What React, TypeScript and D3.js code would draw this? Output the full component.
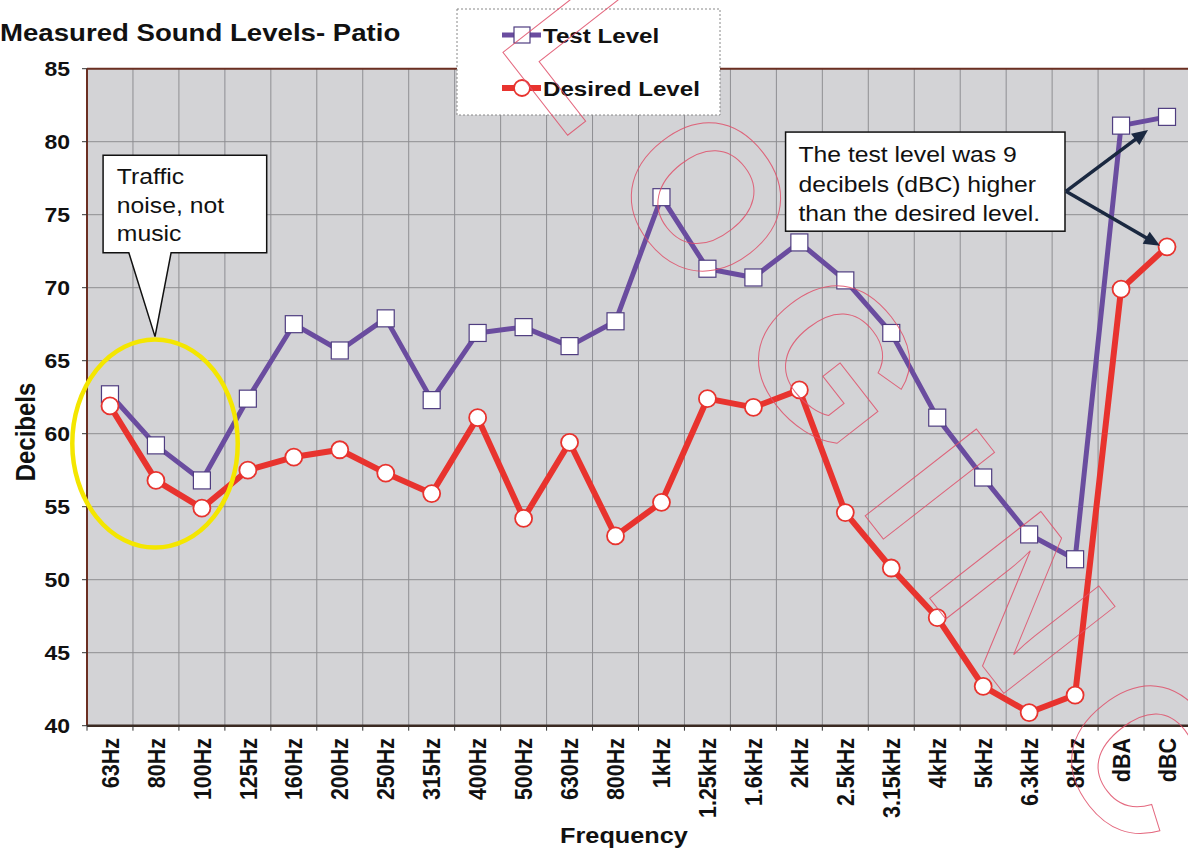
import React from "react";
import * as d3 from "d3";

const categories = ["63Hz","80Hz","100Hz","125Hz","160Hz","200Hz","250Hz","315Hz","400Hz","500Hz","630Hz","800Hz","1kHz","1.25kHz","1.6kHz","2kHz","2.5kHz","3.15kHz","4kHz","5kHz","6.3kHz","8kHz","dBA","dBC"];
const testLevel = [62.7,59.2,56.8,62.4,67.5,65.7,67.9,62.3,66.9,67.3,66.0,67.7,76.2,71.3,70.7,73.1,70.5,66.9,61.1,57.0,53.1,51.4,81.1,81.7];
const desiredLevel = [61.9,56.8,54.9,57.5,58.4,58.9,57.3,55.9,61.1,54.2,59.4,53.0,55.3,62.4,61.8,63.0,54.6,50.8,47.4,42.7,40.9,42.1,69.9,72.8];
const yTicks = [40,45,50,55,60,65,70,75,80,85];
const seriesNames = ["Test Level","Desired Level"];
const noteTraffic = ["Traffic","noise, not","music"];
const noteDiff = ["The test level was 9","decibels (dBC) higher","than the desired level."];
const watermark = "LOGINC";

const W = 1188, H = 850;
const left = 87, right = 1190, top = 68.7, bottom = 725.7;
const FONT = "'Liberation Sans', Arial, Helvetica, sans-serif";
const SX = 1.15;
const PURPLE = "#6a4c9f";
const RED = "#e8332e";

function SText(props: any) {
  const { x, y, size, weight, anchor, rotate, children, dy, fill } = props;
  return (
    <text
      transform={`translate(${x},${y}) scale(${SX},1)${rotate ? ` rotate(${rotate})` : ""}`}
      fontFamily={FONT}
      fontSize={size}
      fontWeight={weight || "normal"}
      textAnchor={anchor || "start"}
      dy={dy}
      fill={fill || "#111"}
    >
      {children}
    </text>
  );
}

export default function App() {
  const x = d3.scaleBand<string>().domain(categories).range([left, right]).padding(0);
  const xi = d3.scaleLinear().domain([0, categories.length]).range([left, right]);
  const y = d3.scaleLinear().domain([40, 85]).range([bottom, top]);
  const cx = (c: string) => (x(c) as number) + x.bandwidth() / 2;

  const line = d3.line<number>().x((_, i) => cx(categories[i])).y((d) => y(d));

  // callout 1
  const c1 = { l: xi(0.35), r: xi(3.91), t: y(79.07), b: y(72.4), p1: xi(0.91), p2: xi(1.83), tx: xi(1.48), ty: y(66.65) };
  const c1Path = `M${c1.l},${c1.t} H${c1.r} V${c1.b} H${c1.p2} L${c1.tx},${c1.ty} L${c1.p1},${c1.b} H${c1.l} Z`;
  // callout 2
  const c2 = { l: xi(15.2), r: xi(21.28), t: y(80.66), b: y(73.87) };
  const ao = { x: xi(21.3), y: y(76.6) };
  const n = categories.length;
  const tip1 = { x: cx(categories[n - 1]) - 19, y: y(testLevel[n - 1]) + 13 };
  const tip2 = { x: cx(categories[n - 1]) - 7, y: y(desiredLevel[n - 1]) - 1 };

  const ell = { cx: xi(1.48), cy: y(59.33), rx: xi(1.8) - xi(0), ry: y(52.2) - y(59.33) };

  const arrowHead = (from: any, to: any) => {
    const ang = Math.atan2(to.y - from.y, to.x - from.x);
    const L = 16, Wd = 7;
    const bx = to.x - L * Math.cos(ang), by = to.y - L * Math.sin(ang);
    const px = -Math.sin(ang) * Wd, py = Math.cos(ang) * Wd;
    return `M${to.x},${to.y} L${bx + px},${by + py} L${bx - px},${by - py} Z`;
  };
  const arrowLineEnd = (from: any, to: any) => {
    const ang = Math.atan2(to.y - from.y, to.x - from.x);
    return { x: to.x - 12 * Math.cos(ang), y: to.y - 12 * Math.sin(ang) };
  };
  const e1 = arrowLineEnd(ao, tip1), e2 = arrowLineEnd(ao, tip2);

  const wmCenter = { x: 885, y: 425 };

  return (
    <svg width={W} height={H} style={{ position: "absolute", left: 0, top: 0, background: "#fff" }}>
      {/* title */}
      <SText x={0} y={41} size={24} weight="bold">Measured Sound Levels- Patio</SText>

      {/* plot background */}
      <rect x={left} y={top} width={right - left} height={bottom - top} fill="#d3d3d6" />
      {/* grid */}
      {yTicks.map((t) => (
        <line key={"h" + t} x1={left} x2={right} y1={y(t)} y2={y(t)} stroke="#8e8e92" strokeWidth={1} />
      ))}
      {categories.map((c) => (
        <line key={"v" + c} x1={x(c) as number} x2={x(c) as number} y1={top} y2={bottom} stroke="#8e8e92" strokeWidth={1} />
      ))}
      {/* axes border */}
      <line x1={left} x2={right} y1={top} y2={top} stroke="#6b2f22" strokeWidth={2} />
      <line x1={left} x2={left} y1={top} y2={bottom} stroke="#6b2f22" strokeWidth={2} />
      <line x1={left} x2={right} y1={bottom} y2={bottom} stroke="#3a2a22" strokeWidth={2.5} />
      {/* y ticks */}
      {yTicks.map((t) => (
        <g key={"yt" + t}>
          <line x1={left - 5} x2={left} y1={y(t)} y2={y(t)} stroke="#333" strokeWidth={1} />
          <SText x={70} y={y(t)} dy="0.36em" size={20} weight="bold" anchor="end">{String(t)}</SText>
        </g>
      ))}
      {/* x ticks */}
      {categories.map((c) => (
        <line key={"xt" + c} x1={x(c) as number} x2={x(c) as number} y1={bottom} y2={bottom + 5} stroke="#333" strokeWidth={1} />
      ))}
      {categories.map((c) => (
        <SText key={"xl" + c} x={cx(c)} y={738} size={21.5} weight="bold" anchor="end" rotate={-90} dy="0.35em">{c}</SText>
      ))}
      {/* axis titles */}
      <SText x={25} y={432} size={24} weight="bold" anchor="middle" rotate={-90} dy="0.35em">Decibels</SText>
      <SText x={624} y={843} size={22} weight="bold" anchor="middle">Frequency</SText>

      {/* callout 1 */}
      <path d={c1Path} fill="#fff" stroke="#111" strokeWidth={1.5} />
      {noteTraffic.map((t, i) => (
        <SText key={"n1" + i} x={xi(0.65)} y={c1.t + 29 + i * 28.5} size={21.5}>{t}</SText>
      ))}

      {/* series */}
      <path d={line(testLevel) as string} fill="none" stroke={PURPLE} strokeWidth={5} strokeLinejoin="round" />
      <path d={line(desiredLevel) as string} fill="none" stroke={RED} strokeWidth={6} strokeLinejoin="round" />

      {/* yellow ellipse */}
      <ellipse cx={ell.cx} cy={ell.cy} rx={ell.rx} ry={ell.ry} fill="none" stroke="#f4e600" strokeWidth={4.5} />

      {testLevel.map((v, i) => (
        <rect key={"ts" + i} x={cx(categories[i]) - 8.5} y={y(v) - 8.5} width={17} height={17} fill="#fff" stroke="#4f3d80" strokeWidth={1.2} />
      ))}
      {desiredLevel.map((v, i) => (
        <circle key={"dc" + i} cx={cx(categories[i])} cy={y(v)} r={8.5} fill="#fff" stroke={RED} strokeWidth={1.8} />
      ))}

      {/* callout 2 */}
      <rect x={c2.l} y={c2.t} width={c2.r - c2.l} height={c2.b - c2.t} fill="#fff" stroke="#111" strokeWidth={1.5} />
      {noteDiff.map((t, i) => (
        <SText key={"n2" + i} x={xi(15.48)} y={c2.t + 30 + i * 29.5} size={21.5}>{t}</SText>
      ))}
      <line x1={ao.x} y1={ao.y} x2={e1.x} y2={e1.y} stroke="#1a2840" strokeWidth={3.5} />
      <line x1={ao.x} y1={ao.y} x2={e2.x} y2={e2.y} stroke="#1a2840" strokeWidth={3.5} />
      <path d={arrowHead(ao, tip1)} fill="#1a2840" />
      <path d={arrowHead(ao, tip2)} fill="#1a2840" />

      {/* legend */}
      <rect x={457} y={9} width={263} height={106} fill="#fff" stroke="#888" strokeWidth={1} strokeDasharray="2,2" />
      <line x1={502} x2={541} y1={35} y2={35} stroke={PURPLE} strokeWidth={5} />
      <rect x={514} y={27} width={16} height={16} fill="#fff" stroke="#4f3d80" strokeWidth={1.2} />
      <SText x={543} y={43} size={21} weight="bold">{seriesNames[0]}</SText>
      <line x1={502} x2={541} y1={88} y2={88} stroke={RED} strokeWidth={6} />
      <circle cx={522} cy={88} r={8} fill="#fff" stroke={RED} strokeWidth={1.8} />
      <SText x={543} y={96} size={21} weight="bold">{seriesNames[1]}</SText>

      {/* watermark */}
      <text
        transform={`translate(${wmCenter.x},${wmCenter.y}) rotate(52)`}
        fontFamily={FONT}
        fontSize={205}
        fontWeight="bold"
        textAnchor="middle"
        dominantBaseline="central"
        letterSpacing={48}
        fill="none"
        stroke="#e0506a"
        strokeWidth={1}
        opacity={0.85}
      >
        {watermark}
      </text>
    </svg>
  );
}
